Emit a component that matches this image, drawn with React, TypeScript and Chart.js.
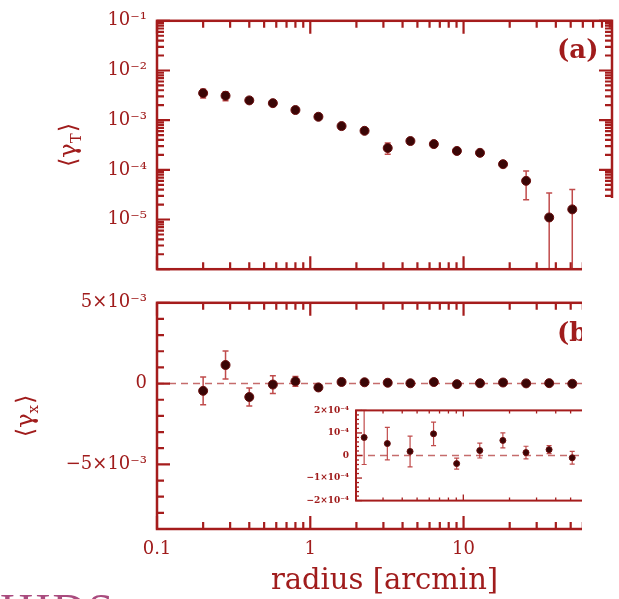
import React, { useEffect, useRef } from 'react';
import { Chart, registerables } from 'chart.js';
Chart.register(...registerables);

// ---------- data ----------
const radius = [0.2, 0.28, 0.4, 0.57, 0.8, 1.13, 1.6, 2.26, 3.2, 4.5, 6.4, 9.05, 12.8, 18.1, 25.6, 36.2, 51.2];
const gammaT = [3.5e-3, 3.1e-3, 2.5e-3, 2.2e-3, 1.6e-3, 1.17e-3, 7.6e-4, 6.1e-4, 2.75e-4, 3.8e-4, 3.3e-4, 2.4e-4, 2.2e-4, 1.3e-4, 6.0e-5, 1.1e-5, 1.6e-5];
const gammaTErr = [7e-4, 6.5e-4, 3e-4, 2.5e-4, 1.5e-4, 1e-4, 1e-4, 6e-5, 7e-5, 4e-5, 3e-5, 2.5e-5, 2e-5, 1.5e-5, 3.5e-5, 2.3e-5, 2.4e-5];
const gammaX = [-0.45e-3, 1.15e-3, -0.83e-3, -0.06e-3, 0.14e-3, -0.24e-3, 0.1e-3, 0.08e-3, 0.053e-3, 0.018e-3, 0.096e-3, -0.036e-3, 0.022e-3, 0.067e-3, 0.013e-3, 0.026e-3, -0.01e-3];
const gammaXErr = [0.86e-3, 0.87e-3, 0.55e-3, 0.55e-3, 0.3e-3, 0.12e-3, 0.1e-3, 0.12e-3, 0.072e-3, 0.068e-3, 0.052e-3, 0.024e-3, 0.033e-3, 0.033e-3, 0.028e-3, 0.018e-3, 0.028e-3];
const insetRadius = [2.26, 3.2, 4.5, 6.4, 9.05, 12.8, 18.1, 25.6, 36.2, 51.2];
const insetGammaX = [0.8e-4, 0.53e-4, 0.18e-4, 0.96e-4, -0.36e-4, 0.22e-4, 0.67e-4, 0.13e-4, 0.26e-4, -0.1e-4];
const insetGammaXErr = [1.2e-4, 0.72e-4, 0.68e-4, 0.52e-4, 0.24e-4, 0.33e-4, 0.33e-4, 0.28e-4, 0.18e-4, 0.28e-4];

const xTickValues = [0.1, 1, 10];
const xTickLabels = ['0.1', '1', '10'];
const topTickValues = [1e-5, 1e-4, 1e-3, 1e-2, 1e-1];
const topTickLabels = ['10⁻⁵', '10⁻⁴', '10⁻³', '10⁻²', '10⁻¹'];
const botTickValues = [-5e-3, 0, 5e-3];
const botTickLabels = ['−5×10⁻³', '0', '5×10⁻³'];
const insetTickValues = [-2e-4, -1e-4, 0, 1e-4, 2e-4];
const insetTickLabels = ['−2×10⁻⁴', '−1×10⁻⁴', '0', '10⁻⁴', '2×10⁻⁴'];

// ---------- style ----------
const RED = '#a01c1c';
const AXIS = '#a51c1c';
const ERR = 'rgba(185,55,55,0.9)';
const DASH = 'rgba(195,100,100,0.95)';
const PT = '#3a0606';
const SERIF = '"DejaVu Serif", serif';

type TickMark = { v: number; major: boolean };
function logMarks(min: number, max: number): TickMark[] {
  const out: TickMark[] = [];
  for (let e = Math.floor(Math.log10(min)); e <= Math.ceil(Math.log10(max)); e++) {
    for (let m = 1; m <= 9; m++) {
      const v = m * Math.pow(10, e);
      if (v >= min * 0.999 && v <= max * 1.001) out.push({ v, major: m === 1 });
    }
  }
  return out;
}
function linMarks(min: number, max: number, step: number, every: number): TickMark[] {
  const out: TickMark[] = [];
  for (let k = Math.ceil(min / step - 1e-9); k <= Math.floor(max / step + 1e-9); k++) {
    out.push({ v: k * step, major: k % every === 0 });
  }
  return out;
}

function framePlugin(cfg: { xMarks: TickMark[]; yMarks: TickMark[]; major: number; minor: number; lw: number; tw: number; yRight: boolean }) {
  return {
    id: 'frame',
    afterDraw(chart: any) {
      const { ctx, chartArea: a, scales } = chart;
      const xs = scales.x, ys = scales.y;
      ctx.save();
      ctx.setLineDash([]);
      ctx.strokeStyle = AXIS;
      ctx.lineWidth = cfg.tw;
      for (const t of cfg.xMarks) {
        const px = xs.getPixelForValue(t.v);
        if (!(px >= a.left - 0.5 && px <= a.right + 0.5)) continue;
        const len = t.major ? cfg.major : cfg.minor;
        ctx.beginPath();
        ctx.moveTo(px, a.top); ctx.lineTo(px, a.top + len);
        ctx.moveTo(px, a.bottom); ctx.lineTo(px, a.bottom - len);
        ctx.stroke();
      }
      for (const t of cfg.yMarks) {
        const py = ys.getPixelForValue(t.v);
        if (!(py >= a.top - 0.5 && py <= a.bottom + 0.5)) continue;
        const len = t.major ? cfg.major : cfg.minor;
        ctx.beginPath();
        ctx.moveTo(a.left, py); ctx.lineTo(a.left + len, py);
        if (cfg.yRight) { ctx.moveTo(a.right, py); ctx.lineTo(a.right - len, py); }
        ctx.stroke();
      }
      ctx.lineWidth = cfg.lw;
      ctx.strokeRect(a.left, a.top, a.right - a.left, a.bottom - a.top);
      ctx.restore();
    },
  };
}

const errorBarPlugin = {
  id: 'errbars',
  beforeDatasetsDraw(chart: any) {
    const { ctx, chartArea: a } = chart;
    const xs = chart.scales.x, ys = chart.scales.y;
    chart.data.datasets.forEach((ds: any) => {
      if (!ds.errors) return;
      ctx.save();
      ctx.strokeStyle = ERR;
      ctx.lineWidth = ds.errWidth || 1.5;
      const cap = ds.capHalf || 3;
      ds.data.forEach((p: any, i: number) => {
        const e = ds.errors[i];
        const px = xs.getPixelForValue(p.x);
        let yHi = ys.getPixelForValue(p.y + e);
        let capHi = true;
        if (yHi < a.top) { yHi = a.top; capHi = false; }
        let yLo: number; let capLo = true;
        const lo = p.y - e;
        if (ys.type === 'logarithmic' && lo <= 0) { yLo = a.bottom; capLo = false; }
        else {
          yLo = ys.getPixelForValue(lo);
          if (yLo > a.bottom) { yLo = a.bottom; capLo = false; }
        }
        ctx.beginPath();
        ctx.moveTo(px, yHi); ctx.lineTo(px, yLo);
        if (capHi) { ctx.moveTo(px - cap, yHi); ctx.lineTo(px + cap, yHi); }
        if (capLo) { ctx.moveTo(px - cap, yLo); ctx.lineTo(px + cap, yLo); }
        ctx.stroke();
      });
      ctx.restore();
    });
  },
};

const zeroLinePlugin = {
  id: 'zeroline',
  beforeDatasetsDraw(chart: any) {
    const { ctx, chartArea: a } = chart;
    const y0 = chart.scales.y.getPixelForValue(0);
    ctx.save();
    ctx.strokeStyle = DASH;
    ctx.lineWidth = 1.5;
    ctx.setLineDash([7, 5]);
    ctx.beginPath();
    ctx.moveTo(a.left, y0); ctx.lineTo(a.right, y0);
    ctx.stroke();
    ctx.restore();
  },
};

function textPlugin(cfg: { panel?: string; panelDy?: number; titleX?: number; sub?: string; size?: number }) {
  return {
    id: 'texts',
    afterDraw(chart: any) {
      const { ctx, chartArea: a } = chart;
      ctx.save();
      ctx.fillStyle = RED;
      if (cfg.panel) {
        ctx.font = `bold 26px ${SERIF}`;
        ctx.textAlign = 'left';
        ctx.textBaseline = 'middle';
        ctx.fillText(cfg.panel, 557, a.top + (cfg.panelDy || 30));
      }
      if (cfg.sub) {
        const size = cfg.size || 24;
        const subSize = Math.round(size * 0.62);
        const cy = (a.top + a.bottom) / 2;
        ctx.translate(cfg.titleX || 40, cy);
        ctx.rotate(-Math.PI / 2);
        ctx.textBaseline = 'middle';
        ctx.textAlign = 'left';
        const f1 = `${size}px ${SERIF}`;
        const f2 = `${subSize}px ${SERIF}`;
        ctx.font = f1; const wOpen = ctx.measureText('⟨γ').width; const wClose = ctx.measureText('⟩').width;
        ctx.font = f2; const wSub = ctx.measureText(cfg.sub).width;
        const total = wOpen + wSub + wClose + 1;
        let x = -total / 2;
        ctx.font = f1; ctx.fillText('⟨γ', x, 0); x += wOpen;
        ctx.font = f2; ctx.fillText(cfg.sub, x, size * 0.28); x += wSub + 1;
        ctx.font = f1; ctx.fillText('⟩', x, 0);
      }
      ctx.restore();
    },
  };
}

function labelFor(values: number[], labels: string[], log: boolean) {
  return (v: any) => {
    const n = Number(v);
    const i = values.findIndex((t) => (log ? Math.abs(Math.log10(t) - Math.log10(n)) < 1e-6 : Math.abs(t - n) < 1e-12));
    return i >= 0 ? labels[i] : '';
  };
}

const XMIN = 0.1;
const XMAX = 93;

export default function App() {
  const refA = useRef<HTMLCanvasElement>(null);
  const refB = useRef<HTMLCanvasElement>(null);
  const refC = useRef<HTMLCanvasElement>(null);

  useEffect(() => {
    const common = {
      responsive: false,
      animation: false as const,
      devicePixelRatio: 1,
      events: [] as any[],
    };
    const pointStyle = {
      pointRadius: 4.5,
      pointBackgroundColor: PT,
      pointBorderColor: '#6a0c0c',
      pointBorderWidth: 1,
      showLine: false,
    };

    const chartA = new Chart(refA.current as HTMLCanvasElement, {
      type: 'scatter',
      data: {
        datasets: [{
          data: radius.map((r, i) => ({ x: r, y: gammaT[i] })),
          errors: gammaTErr,
          ...pointStyle,
        } as any],
      },
      options: {
        ...common,
        layout: { padding: { left: 0, top: 16, right: 7, bottom: 9 } },
        plugins: { legend: { display: false }, tooltip: { enabled: false } },
        scales: {
          x: { type: 'logarithmic', min: XMIN, max: XMAX, display: false },
          y: {
            type: 'logarithmic', min: 1e-6, max: 1e-1,
            afterFit: (s: any) => { s.width = 157; },
            afterBuildTicks: (s: any) => { s.ticks = topTickValues.map((v) => ({ value: v })); },
            ticks: { callback: labelFor(topTickValues, topTickLabels, true), font: { family: SERIF, size: 18 }, color: RED, padding: 10, autoSkip: false },
            grid: { display: false, drawTicks: false },
            border: { display: false },
          },
        },
      } as any,
      plugins: [errorBarPlugin, framePlugin({ xMarks: logMarks(XMIN, XMAX), yMarks: logMarks(1e-6, 1e-1), major: 13, minor: 7, lw: 2.5, tw: 2.2, yRight: true }), textPlugin({ panel: '(a)', panelDy: 30, titleX: 70, sub: 'T', size: 24 })] as any,
    });

    const chartB = new Chart(refB.current as HTMLCanvasElement, {
      type: 'scatter',
      data: {
        datasets: [{
          data: radius.map((r, i) => ({ x: r, y: gammaX[i] })),
          errors: gammaXErr,
          ...pointStyle,
        } as any],
      },
      options: {
        ...common,
        layout: { padding: { left: 0, top: 10, right: 7, bottom: 0 } },
        plugins: { legend: { display: false }, tooltip: { enabled: false } },
        scales: {
          x: {
            type: 'logarithmic', min: XMIN, max: XMAX,
            afterFit: (s: any) => { s.height = 70; },
            afterBuildTicks: (s: any) => { s.ticks = xTickValues.map((v) => ({ value: v })); },
            ticks: { callback: labelFor(xTickValues, xTickLabels, true), font: { family: SERIF, size: 18 }, color: RED, padding: 10, autoSkip: false, maxRotation: 0 },
            grid: { display: false, drawTicks: false },
            border: { display: false },
            title: { display: true, text: 'radius [arcmin]', font: { family: SERIF, size: 29 }, color: RED, padding: { top: 0, bottom: 0 } },
          },
          y: {
            type: 'linear', min: -9e-3, max: 5e-3,
            afterFit: (s: any) => { s.width = 157; },
            afterBuildTicks: (s: any) => { s.ticks = botTickValues.map((v) => ({ value: v })); },
            ticks: { callback: labelFor(botTickValues, botTickLabels, false), font: { family: SERIF, size: 18 }, color: RED, padding: 10, autoSkip: false },
            grid: { display: false, drawTicks: false },
            border: { display: false },
          },
        },
      } as any,
      plugins: [zeroLinePlugin, errorBarPlugin, framePlugin({ xMarks: logMarks(XMIN, XMAX), yMarks: linMarks(-9e-3, 5e-3, 1e-3, 5), major: 13, minor: 7, lw: 2.5, tw: 2.2, yRight: true }), textPlugin({ panel: '(b)', panelDy: 31, titleX: 27, sub: 'x', size: 24 })] as any,
    });

    const chartC = new Chart(refC.current as HTMLCanvasElement, {
      type: 'scatter',
      data: {
        datasets: [{
          data: insetRadius.map((r, i) => ({ x: r, y: insetGammaX[i] })),
          errors: insetGammaXErr,
          errWidth: 1.2,
          capHalf: 2.5,
          ...pointStyle,
          pointRadius: 3,
        } as any],
      },
      options: {
        ...common,
        layout: { padding: { left: 0, top: 11, right: 7, bottom: 8 } },
        plugins: { legend: { display: false }, tooltip: { enabled: false } },
        scales: {
          x: { type: 'logarithmic', min: 2.0, max: XMAX, display: false },
          y: {
            type: 'linear', min: -2e-4, max: 2e-4,
            afterFit: (s: any) => { s.width = 66; },
            afterBuildTicks: (s: any) => { s.ticks = insetTickValues.map((v) => ({ value: v })); },
            ticks: { callback: labelFor(insetTickValues, insetTickLabels, false), font: { family: SERIF, size: 9, weight: 'bold' }, color: RED, padding: 7, autoSkip: false },
            grid: { display: false, drawTicks: false },
            border: { display: false },
          },
        },
      } as any,
      plugins: [zeroLinePlugin, errorBarPlugin, framePlugin({ xMarks: logMarks(2.0, XMAX), yMarks: linMarks(-2e-4, 2e-4, 2e-5, 5), major: 6, minor: 3, lw: 2, tw: 1.3, yRight: false })] as any,
    });

    return () => { chartA.destroy(); chartB.destroy(); chartC.destroy(); };
  }, []);

  return (
    <div style={{ position: 'absolute', left: 0, top: 0, width: 619, height: 599, overflow: 'hidden', background: '#fff' }}>
      <canvas ref={refB} width={619} height={317} style={{ position: 'absolute', left: 0, top: 282, width: 619, height: 317 }} />
      <canvas ref={refC} width={329} height={115} style={{ position: 'absolute', left: 290, top: 398, width: 329, height: 115 }} />
      <canvas ref={refA} width={619} height={290} style={{ position: 'absolute', left: 0, top: 0, width: 619, height: 290 }} />
      <div style={{ position: 'absolute', left: 582, top: 198, width: 37, height: 401, background: '#fff' }} />
      <div style={{ position: 'absolute', left: 0, top: 588, fontFamily: '"Liberation Serif", serif', fontSize: 46, lineHeight: '46px', color: '#a94b7e', whiteSpace: 'nowrap', letterSpacing: 2 }}>HIDS</div>
    </div>
  );
}
